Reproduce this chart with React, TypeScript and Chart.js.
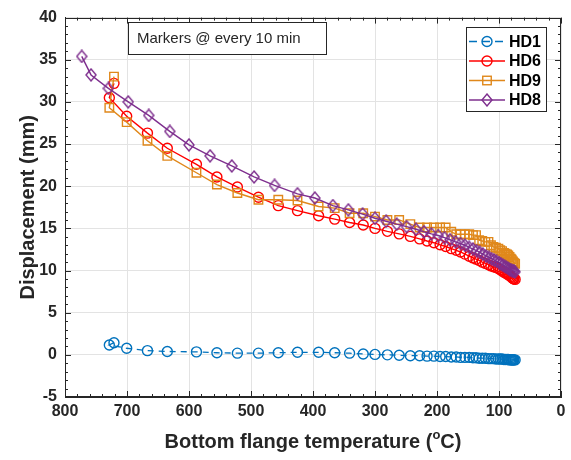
import React, { useEffect, useRef } from 'react';
import { Chart, registerables } from 'chart.js';

Chart.register(...registerables);

// ---- Data ----
// Bottom flange temperatures (°C) at every 10-min marker, shared by HD1, HD6, HD9
const tempA = [
  721, 728.5, 700.5, 667, 635, 588, 555, 522, 488, 456, 425, 391, 365, 341, 319,
  300, 280, 261, 243, 228, 216, 205, 195, 186, 177,
  169, 162, 155, 148, 142, 137, 132, 127, 122, 117,
  113, 109, 105, 101, 98, 95, 92, 89.5, 87, 85,
  83, 81, 79.5, 78, 77, 76, 74,
];
// Temperatures for HD8 markers
const tempB = [
  773, 758, 730, 698, 665, 631, 600, 566, 531, 495, 462, 425, 397, 368, 343, 320,
  300, 282, 265, 249, 234, 221, 209, 198, 188, 179,
  170, 162, 155, 148, 142, 136, 131, 126, 121, 116,
  112, 108, 104, 100, 97, 94, 91, 88.5, 86, 84,
  82, 80, 78.5, 77, 76, 74,
];
const hd1 = [
  1.44, 1.17, 0.78, 0.5, 0.4, 0.35, 0.25, 0.2, 0.2, 0.25, 0.3, 0.3, 0.25, 0.2, 0.1,
  0.05, 0.0, -0.05, -0.1, -0.1, -0.15, -0.15, -0.2, -0.2, -0.25,
  -0.25, -0.3, -0.3, -0.3, -0.35, -0.35, -0.4, -0.4, -0.4, -0.45,
  -0.45, -0.45, -0.5, -0.5, -0.5, -0.5, -0.55, -0.55, -0.55, -0.55,
  -0.6, -0.6, -0.6, -0.6, -0.6, -0.6, -0.6,
];
const hd6 = [
  32.2, 30.5, 28.3, 26.3, 24.5, 22.6, 21.1, 19.9, 18.7, 17.7, 17.1, 16.5, 16.1, 15.7, 15.4,
  15.0, 14.65, 14.35, 14.05, 13.75, 13.5, 13.3, 13.05, 12.85, 12.6,
  12.4, 12.2, 11.95, 11.7, 11.5, 11.35, 11.2, 11.0, 10.85, 10.7,
  10.55, 10.45, 10.35, 10.25, 10.1, 9.95, 9.8, 9.7, 9.6, 9.5,
  9.4, 9.3, 9.2, 9.1, 9.05, 9.0, 8.95,
];
const hd9 = [
  33.0, 29.3, 27.6, 25.4, 23.6, 21.6, 20.2, 19.2, 18.4, 18.4, 18.3, 17.6, 17.4, 16.8, 16.8,
  16.4, 16.0, 16.0, 15.5, 15.1, 15.1, 15.1, 15.1, 15.1, 14.6,
  14.3, 14.3, 14.3, 14.3, 14.2, 14.2, 13.6, 13.5, 13.4, 13.4,
  13.0, 12.8, 12.7, 12.6, 12.4, 12.3, 12.1, 12.0, 11.9, 11.8,
  11.6, 11.4, 11.3, 11.1, 11.0, 10.9, 10.8,
];
const hd8 = [
  35.4, 33.2, 31.6, 30.0, 28.4, 26.5, 24.9, 23.6, 22.4, 21.1, 20.1, 19.1, 18.6, 17.7, 17.2, 16.7,
  16.2, 15.85, 15.5, 15.2, 14.9, 14.6, 14.35, 14.15, 13.9, 13.65,
  13.4, 13.2, 13.0, 12.75, 12.55, 12.35, 12.15, 11.95, 11.75, 11.55,
  11.4, 11.25, 11.1, 10.95, 10.8, 10.65, 10.5, 10.4, 10.3, 10.2,
  10.1, 10.05, 10.0, 9.95, 9.9, 9.85,
];
const seriesNames = ['HD1', 'HD6', 'HD9', 'HD8'];
const annotationText = 'Markers @ every 10 min';
const xTitle = 'Bottom flange temperature (';
const xTitleSup = 'o';
const xTitleEnd = 'C)';
const yTitle = 'Displacement (mm)';

const FONT = '"Liberation Sans", Arial, Helvetica, sans-serif';
const TXT = '#262626';
const C1 = '#0072BD';
const C6 = '#FF0000';
const C9 = '#E0881B';
const C8 = '#7E2F8E';

function makeDiamond(color: string): HTMLCanvasElement {
  const c = document.createElement('canvas');
  c.width = 12;
  c.height = 14;
  const g = c.getContext('2d')!;
  g.strokeStyle = color;
  g.lineWidth = 1.4;
  g.beginPath();
  g.moveTo(6, 1);
  g.lineTo(11, 7);
  g.lineTo(6, 13);
  g.lineTo(1, 7);
  g.closePath();
  g.stroke();
  return c;
}

export default function App() {
  const ref = useRef<HTMLCanvasElement>(null);

  useEffect(() => {
    document.body.style.margin = '0';
    const diamond = makeDiamond(C8);

    const overlay = {
      id: 'overlay',
      afterDraw(chart: any) {
        const ctx = chart.ctx as CanvasRenderingContext2D;
        const { left, right, top, bottom } = chart.chartArea;
        const xs = chart.scales.x;
        const ys = chart.scales.y;
        ctx.save();
        // frame
        ctx.strokeStyle = TXT;
        ctx.lineWidth = 1;
        ctx.strokeRect(Math.round(left) + 0.5, Math.round(top) + 0.5, Math.round(right - left) - 1, Math.round(bottom - top) - 1);
        // ticks (inward) on all sides
        ctx.beginPath();
        for (let v = 0; v <= 800; v += 20) {
          const px = Math.round(xs.getPixelForValue(v)) + 0.5;
          const len = v % 100 === 0 ? 6 : 3;
          ctx.moveTo(px, bottom);
          ctx.lineTo(px, bottom - len);
          ctx.moveTo(px, top);
          ctx.lineTo(px, top + len);
        }
        for (let v = -5; v <= 40; v += 1) {
          const py = Math.round(ys.getPixelForValue(v)) + 0.5;
          const len = v % 5 === 0 ? 6 : 3;
          ctx.moveTo(left, py);
          ctx.lineTo(left + len, py);
          ctx.moveTo(right, py);
          ctx.lineTo(right - len, py);
        }
        ctx.stroke();

        // annotation box
        ctx.fillStyle = '#fff';
        ctx.fillRect(128, 22, 198, 32);
        ctx.strokeRect(128.5, 22.5, 198, 32);
        ctx.fillStyle = TXT;
        ctx.font = `15px ${FONT}`;
        ctx.textBaseline = 'middle';
        ctx.textAlign = 'left';
        ctx.fillText(annotationText, 137, 38.5);

        // legend
        ctx.fillStyle = '#fff';
        ctx.fillRect(466, 27, 80, 84);
        ctx.strokeStyle = TXT;
        ctx.strokeRect(466.5, 27.5, 80, 84);
        const rows = [41.5, 61, 80.5, 100];
        const colors = [C1, C6, C9, C8];
        rows.forEach((ry, i) => {
          ctx.strokeStyle = colors[i];
          ctx.lineWidth = 1.4;
          ctx.setLineDash(i === 0 ? [8, 5] : []);
          ctx.beginPath();
          ctx.moveTo(469, ry);
          ctx.lineTo(505, ry);
          ctx.stroke();
          ctx.setLineDash([]);
          ctx.beginPath();
          if (i < 2) {
            ctx.arc(487, ry, 5, 0, Math.PI * 2);
            ctx.stroke();
          } else if (i === 2) {
            ctx.strokeRect(482.75, ry - 4.25, 8.5, 8.5);
          } else {
            ctx.drawImage(diamond, 487 - 6, ry - 7);
          }
          ctx.fillStyle = '#000';
          ctx.font = `bold 16px ${FONT}`;
          ctx.textAlign = 'left';
          ctx.textBaseline = 'middle';
          ctx.fillText(seriesNames[i], 509, ry + 1);
        });

        // axis titles
        ctx.fillStyle = TXT;
        ctx.font = `bold 20px ${FONT}`;
        ctx.textBaseline = 'middle';
        const w1 = ctx.measureText(xTitle).width;
        const w3 = ctx.measureText(xTitleEnd).width;
        ctx.font = `bold 13px ${FONT}`;
        const w2 = ctx.measureText(xTitleSup).width;
        const cx = (left + right) / 2;
        let sx = cx - (w1 + w2 + w3) / 2;
        const ty = 442;
        ctx.font = `bold 20px ${FONT}`;
        ctx.textAlign = 'left';
        ctx.fillText(xTitle, sx, ty);
        sx += w1;
        ctx.font = `bold 13px ${FONT}`;
        ctx.fillText(xTitleSup, sx, ty - 7);
        sx += w2;
        ctx.font = `bold 20px ${FONT}`;
        ctx.fillText(xTitleEnd, sx, ty);

        ctx.save();
        ctx.translate(28, (top + bottom) / 2);
        ctx.rotate(-Math.PI / 2);
        ctx.textAlign = 'center';
        ctx.fillText(yTitle, 0, 0);
        ctx.restore();

        ctx.restore();
      },
    };

    const mk = (xs: number[], ys: number[]) => xs.map((x, i) => ({ x, y: ys[i] }));
    const transparent = 'rgba(0,0,0,0)';

    const chart = new Chart(ref.current!, {
      type: 'scatter',
      data: {
        datasets: [
          {
            label: seriesNames[0],
            data: mk(tempA, hd1),
            showLine: true,
            borderColor: C1,
            borderWidth: 1.3,
            borderDash: [6, 5],
            pointStyle: 'circle',
            pointRadius: 5,
            pointBorderWidth: 1.4,
            pointBorderColor: C1,
            pointBackgroundColor: transparent,
            backgroundColor: transparent,
            order: 3,
          },
          {
            label: seriesNames[1],
            data: mk(tempA, hd6),
            showLine: true,
            borderColor: C6,
            borderWidth: 1.4,
            pointStyle: 'circle',
            pointRadius: 5,
            pointBorderWidth: 1.4,
            pointBorderColor: C6,
            pointBackgroundColor: transparent,
            backgroundColor: transparent,
            order: 2,
          },
          {
            label: seriesNames[2],
            data: mk(tempA, hd9),
            showLine: true,
            borderColor: C9,
            borderWidth: 1.4,
            pointStyle: 'rect',
            pointRadius: 6,
            pointBorderWidth: 1.4,
            pointBorderColor: C9,
            pointBackgroundColor: transparent,
            backgroundColor: transparent,
            order: 1,
          },
          {
            label: seriesNames[3],
            data: mk(tempB, hd8),
            showLine: true,
            borderColor: C8,
            borderWidth: 1.4,
            pointStyle: diamond,
            pointRadius: 6,
            pointBorderColor: C8,
            pointBackgroundColor: transparent,
            backgroundColor: transparent,
            order: 0,
          },
        ],
      },
      options: {
        responsive: false,
        devicePixelRatio: 1,
        animation: false,
        events: [],
        layout: { padding: { left: 0, top: 14, right: 10, bottom: 0 } },
        plugins: {
          legend: { display: false },
          tooltip: { enabled: false },
        },
        scales: {
          x: {
            type: 'linear',
            min: 0,
            max: 800,
            reverse: true,
            ticks: {
              stepSize: 100,
              color: TXT,
              font: { family: FONT, size: 16, weight: 'bold' },
              padding: 5,
              maxRotation: 0,
            },
            grid: { color: '#e3e3e3', lineWidth: 1, drawTicks: false },
            border: { display: true, color: TXT, width: 1 },
            afterFit: (s: any) => { s.height = 63; },
          },
          y: {
            type: 'linear',
            min: -5,
            max: 40,
            ticks: {
              stepSize: 5,
              color: TXT,
              font: { family: FONT, size: 16, weight: 'bold' },
              padding: 8,
            },
            grid: { color: '#e3e3e3', lineWidth: 1, drawTicks: false },
            border: { display: true, color: TXT, width: 1 },
            afterFit: (s: any) => { s.width = 65; },
          },
        },
      },
      plugins: [overlay],
    } as any);

    return () => chart.destroy();
  }, []);

  return (
    <div style={{ width: 571, height: 460 }}>
      <canvas ref={ref} width={571} height={460} style={{ display: 'block' }} />
    </div>
  );
}
